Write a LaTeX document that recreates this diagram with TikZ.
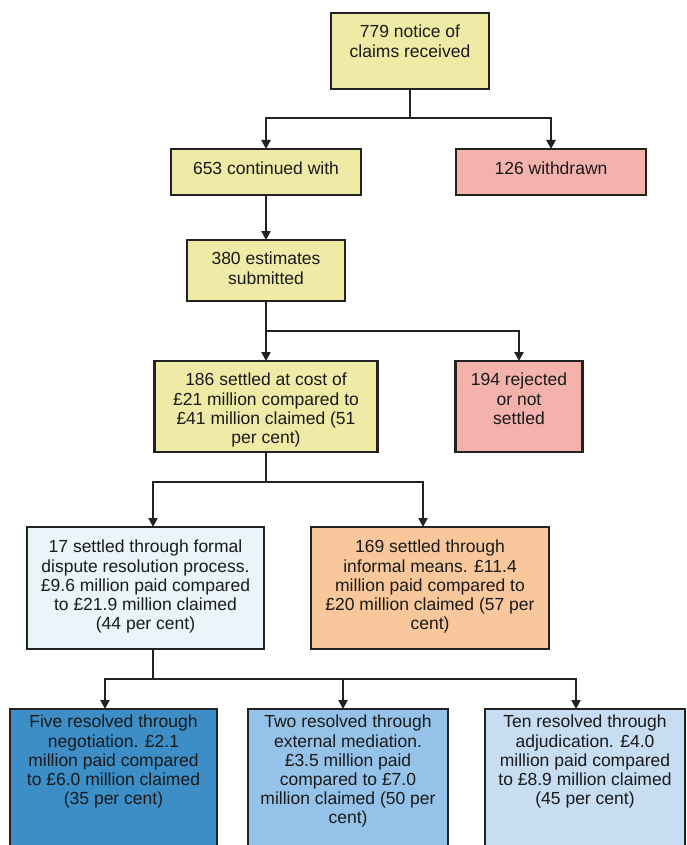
\documentclass[tikz,border=0pt]{standalone}
\usepackage{fontspec}
\setmainfont{Liberation Sans}
\usetikzlibrary{arrows.meta}
\definecolor{cyel}{HTML}{EFEBA6}
\definecolor{cpink}{HTML}{F4B2AC}
\definecolor{cpale}{HTML}{EAF5FA}
\definecolor{cpeach}{HTML}{F8C89C}
\definecolor{cblueA}{HTML}{3D8DC6}
\definecolor{cblueB}{HTML}{94C2E8}
\definecolor{cblueC}{HTML}{C6DDF2}
\definecolor{cline}{HTML}{222222}
\definecolor{ctext}{HTML}{1A1A1A}
\tikzset{
  box/.style={rectangle, draw=cline, line width=2.2pt, inner sep=0pt, outer sep=0pt},
  txt/.style={anchor=north, align=center, inner sep=0pt, text=ctext, font=\fontsize{17.5}{19.2}\selectfont},
  ln/.style={draw=cline, line width=2.2pt},
  arr/.style={draw=cline, line width=2.2pt, -{Triangle[width=9pt,length=9pt]}},
}
\begin{document}
\begin{tikzpicture}[x=1pt,y=-1pt]
\useasboundingbox (0,0) rectangle (686,845);
\clip (0,0) rectangle (686,845);
\fill[white] (0,0) rectangle (686,845);

% boxes
\node[box, fill=cyel, minimum width=158pt, minimum height=76pt] (b779) at (410,51) {};
\node[box, fill=cyel, minimum width=190pt, minimum height=46pt] (b653) at (266,172) {};
\node[box, fill=cpink, minimum width=190pt, minimum height=46pt] (b126) at (551,172) {};
\node[box, fill=cyel, minimum width=158pt, minimum height=61pt] (b380) at (266,270.5) {};
\node[box, fill=cyel, minimum width=223pt, minimum height=91pt] (b186) at (266,406.5) {};
\node[box, fill=cpink, minimum width=127pt, minimum height=91pt] (b194) at (519,406.5) {};
\node[box, fill=cpale, minimum width=237pt, minimum height=122pt] (b17) at (145.5,588) {};
\node[box, fill=cpeach, minimum width=238pt, minimum height=122pt] (b169) at (430,588) {};
\node[box, fill=cblueA, minimum width=207pt, minimum height=143pt] (bA) at (113.5,780.5) {};
\node[box, fill=cblueB, minimum width=200pt, minimum height=143pt] (bB) at (348,780.5) {};
\node[box, fill=cblueC, minimum width=200pt, minimum height=143pt] (bC) at (585,780.5) {};

% texts
\node[txt] (t779) at (410,25) {779 notice of\\claims received};
\node[txt] (t653) at (266,161.5) {653 continued with};
\node[txt] (t126) at (551,161.5) {126 withdrawn};
\node[txt] (t380) at (266,252) {380 estimates\\submitted};
\node[txt] (t186) at (266,373) {186 settled at cost of\\\pounds21 million compared to\\\pounds41 million claimed (51\\per cent)};
\node[txt] (t194) at (519,373) {194 rejected\\or not\\settled};
\node[txt] (t17) at (145.5,540) {17 settled through formal\\dispute resolution process.\\\pounds9.6 million paid compared\\to \pounds21.9 million claimed\\(44 per cent)};
\node[txt] (t169) at (430,540) {169 settled through\\informal means. \pounds11.4\\million paid compared to\\\pounds20 million claimed (57 per\\cent)};
\node[txt] (tA) at (113.5,715) {Five resolved through\\negotiation. \pounds2.1\\million paid compared\\to \pounds6.0 million claimed\\(35 per cent)};
\node[txt] (tB) at (348,715) {Two resolved through\\external mediation.\\\pounds3.5 million paid\\compared to \pounds7.0\\million claimed (50 per\\cent)};
\node[txt] (tC) at (585,715) {Ten resolved through\\adjudication. \pounds4.0\\million paid compared\\to \pounds8.9 million claimed\\(45 per cent)};

% connectors
\coordinate (j1) at (410,118);
\draw[ln] (b779.south) -- (j1);
\draw[arr] (j1) -| (b653.north);
\draw[arr] (j1) -| (b126.north);
\draw[arr] (b653.south) -- (b380.north);
\coordinate (j2) at (266,331);
\draw[ln] (b380.south) -- (j2);
\draw[arr] (j2) -| (b186.north);
\draw[arr] (j2) -| (b194.north);
\coordinate (j3) at (266,482);
\coordinate (x17) at (153,0);
\coordinate (x169) at (423,0);
\draw[ln] (b186.south) -- (j3);
\draw[arr] (j3) -| (x17 |- b17.north);
\draw[arr] (j3) -| (x169 |- b169.north);
\coordinate (j4) at (153,679);
\coordinate (xA) at (105,0);
\coordinate (xB) at (343,0);
\coordinate (xC) at (576,0);
\draw[ln] (x17 |- b17.south) -- (j4);
\draw[arr] (j4) -| (xA |- bA.north);
\draw[arr] (j4) -| (xB |- bB.north);
\draw[arr] (j4) -| (xC |- bC.north);
\end{tikzpicture}
\end{document}
